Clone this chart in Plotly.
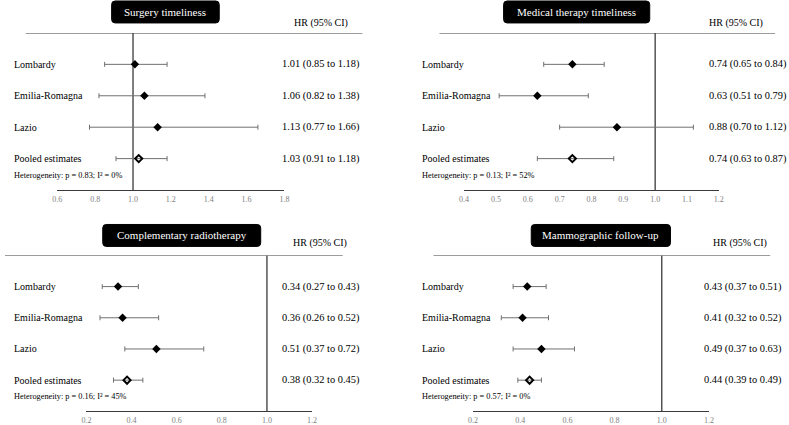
import plotly.graph_objects as go

W, H = 789, 425

# ---------------- data ----------------
row_labels = ["Lombardy", "Emilia-Romagna", "Lazio", "Pooled estimates"]
panel_titles = ["Surgery timeliness", "Medical therapy timeliness",
                "Complementary radiotherapy", "Mammographic follow-up"]

surgery_hr = [1.01, 1.06, 1.13, 1.03]
surgery_lo = [0.85, 0.82, 0.77, 0.91]
surgery_hi = [1.18, 1.38, 1.66, 1.18]

medical_hr = [0.74, 0.63, 0.88, 0.74]
medical_lo = [0.65, 0.51, 0.70, 0.63]
medical_hi = [0.84, 0.79, 1.12, 0.87]

radio_hr = [0.34, 0.36, 0.51, 0.38]
radio_lo = [0.27, 0.26, 0.37, 0.32]
radio_hi = [0.43, 0.52, 0.72, 0.45]

mammo_hr = [0.43, 0.41, 0.49, 0.44]
mammo_lo = [0.37, 0.32, 0.37, 0.39]
mammo_hi = [0.51, 0.52, 0.63, 0.49]

het_p = ["0.83", "0.13", "0.16", "0.57"]
het_i2 = ["0", "52", "45", "0"]

ticks_surgery = [0.6, 0.8, 1.0, 1.2, 1.4, 1.6, 1.8]
ticks_medical = [0.4, 0.5, 0.6, 0.7, 0.8, 0.9, 1.0, 1.1, 1.2]
ticks_radio = [0.2, 0.4, 0.6, 0.8, 1.0, 1.2]
ticks_mammo = [0.2, 0.4, 0.6, 0.8, 1.0, 1.2]

# ---------------- layout geometry (pixels) ----------------
panels = [
    dict(hr=surgery_hr, lo=surgery_lo, hi=surgery_hi, ticks=ticks_surgery,
         ax=(53, 283), top=33, bottom=190.5, line=(21, 362), box=(108, 217, 1, 23),
         lab_x=7, val_x=279, head_x=291, head_y=23),
    dict(hr=medical_hr, lo=medical_lo, hi=medical_hi, ticks=ticks_medical,
         ax=(465, 723), top=33, bottom=190.5, line=(440, 780), box=(505, 653, 1, 23),
         lab_x=420, val_x=711, head_x=711, head_y=23),
    dict(hr=radio_hr, lo=radio_lo, hi=radio_hi, ticks=ticks_radio,
         ax=(82.5, 311), top=256, bottom=412.3, line=(0, 342), box=(99, 259, 225, 247),
         lab_x=7, val_x=279, head_x=290, head_y=244),
    dict(hr=mammo_hr, lo=mammo_lo, hi=mammo_hi, ticks=ticks_mammo,
         ax=(474, 713), top=256, bottom=412.3, line=(434, 775), box=(533, 674, 225, 247),
         lab_x=420, val_x=706, head_x=715, head_y=244),
]

FONT = "Liberation Serif, 'Times New Roman', Times, serif"
LINEC = "#3a3a3a"
ERRC = "#707070"


def px(x):
    return x / W


def py(y):
    return 1 - y / H


fig = go.Figure()
shapes = []
annotations = []
layout_axes = {}

rows_y = [4, 3, 2, 1]

for i, p in enumerate(panels, start=1):
    xa = "x" if i == 1 else f"x{i}"
    ya = "y" if i == 1 else f"y{i}"
    xkey = "xaxis" if i == 1 else f"xaxis{i}"
    ykey = "yaxis" if i == 1 else f"yaxis{i}"

    hr, lo, hi = p["hr"], p["lo"], p["hi"]
    ex_plus = [h - v for v, h in zip(hr, hi)]
    ex_minus = [v - l for v, l in zip(hr, lo)]

    # individual regions
    fig.add_trace(go.Scatter(
        x=hr[:3], y=rows_y[:3], xaxis=xa, yaxis=ya, mode="markers",
        marker=dict(symbol="diamond", size=6.5, color="black"),
        error_x=dict(type="data", array=ex_plus[:3], arrayminus=ex_minus[:3],
                     color=ERRC, thickness=1, width=2.5),
        showlegend=False, hoverinfo="skip"))
    # pooled
    fig.add_trace(go.Scatter(
        x=hr[3:], y=rows_y[3:], xaxis=xa, yaxis=ya, mode="markers",
        marker=dict(symbol="diamond-open", size=5.5, color="black",
                    line=dict(width=2, color="black")),
        error_x=dict(type="data", array=ex_plus[3:], arrayminus=ex_minus[3:],
                     color=ERRC, thickness=1, width=2.5),
        showlegend=False, hoverinfo="skip"))

    ticks = p["ticks"]
    layout_axes[xkey] = dict(
        domain=[px(p["ax"][0]), px(p["ax"][1])],
        range=[ticks[0], ticks[-1]], anchor=ya,
        tickvals=ticks, ticktext=[f"{t:.1f}" for t in ticks],
        showline=True, linecolor=LINEC, linewidth=1.3, ticks="",
        showgrid=False, zeroline=False,
        tickfont=dict(family=FONT, size=8, color="#808080"),
        ticklabelstandoff=1, fixedrange=True)
    layout_axes[ykey] = dict(
        domain=[py(p["bottom"]), py(p["top"])], range=[0, 5],
        anchor=xa, visible=False, fixedrange=True)

    # reference line at HR = 1
    shapes.append(dict(type="line", xref=xa, yref=ya, x0=1.0, x1=1.0, y0=0, y1=5,
                       line=dict(color=LINEC, width=1.3), layer="below"))
    # top rule
    shapes.append(dict(type="line", xref="paper", yref=ya,
                       x0=px(p["line"][0]), x1=px(p["line"][1]), y0=5, y1=5,
                       line=dict(color=LINEC, width=1.3)))

    # title box with rounded corners
    x0, x1, y0, y1 = p["box"]
    r = 3.5
    pts = [
        ("M", x0 + r, y0), ("L", x1 - r, y0), ("Q", x1, y0, x1, y0 + r),
        ("L", x1, y1 - r), ("Q", x1, y1, x1 - r, y1), ("L", x0 + r, y1),
        ("Q", x0, y1, x0, y1 - r), ("L", x0, y0 + r), ("Q", x0, y0, x0 + r, y0),
    ]
    path = ""
    for seg in pts:
        cmd = seg[0]
        coords = seg[1:]
        s = []
        for k in range(0, len(coords), 2):
            s.append(f"{px(coords[k]):.5f},{py(coords[k + 1]):.5f}")
        path += cmd + " " + " ".join(s) + " "
    path += "Z"
    shapes.append(dict(type="path", xref="paper", yref="paper", path=path,
                       fillcolor="black", line=dict(color="black", width=1)))
    annotations.append(dict(xref="paper", yref="paper",
                            x=px((x0 + x1) / 2), y=py((y0 + y1) / 2),
                            text=panel_titles[i - 1], showarrow=False,
                            xanchor="center", yanchor="middle",
                            font=dict(family=FONT, size=11, color="white")))

    # HR header
    annotations.append(dict(xref="paper", yref="paper", x=px(p["head_x"]), y=py(p["head_y"]),
                            text="HR (95% CI)", showarrow=False, xanchor="left",
                            yanchor="middle", font=dict(family=FONT, size=10, color="black")))

    # row labels and values
    for lab, yv, v, l, h in zip(row_labels, rows_y, hr, lo, hi):
        annotations.append(dict(xref="paper", yref=ya, x=px(p["lab_x"]), y=yv,
                                text=lab, showarrow=False, xanchor="left", yanchor="middle",
                                font=dict(family=FONT, size=10, color="black")))
        annotations.append(dict(xref="paper", yref=ya, x=px(p["val_x"]), y=yv,
                                text=f"{v:.2f} ({l:.2f} to {h:.2f})", showarrow=False,
                                xanchor="left", yanchor="middle",
                                font=dict(family=FONT, size=10.4, color="black")))
    # heterogeneity
    annotations.append(dict(xref="paper", yref=ya, x=px(p["lab_x"]), y=0.47,
                            text=f"Heterogeneity: p = {het_p[i - 1]}; I\u00b2 = {het_i2[i - 1]}%",
                            showarrow=False, xanchor="left", yanchor="middle",
                            font=dict(family=FONT, size=8.3, color="black")))

fig.update_layout(
    width=W, height=H, autosize=False,
    margin=dict(l=0, r=0, t=0, b=0, pad=0),
    paper_bgcolor="white", plot_bgcolor="white",
    font=dict(family=FONT),
    shapes=shapes, annotations=annotations,
    **layout_axes,
)

fig.write_html("out.html", config={"displayModeBar": False},
               post_script="document.body.style.margin='0';document.body.style.padding='0';"
                           "document.documentElement.style.overflow='hidden';")
